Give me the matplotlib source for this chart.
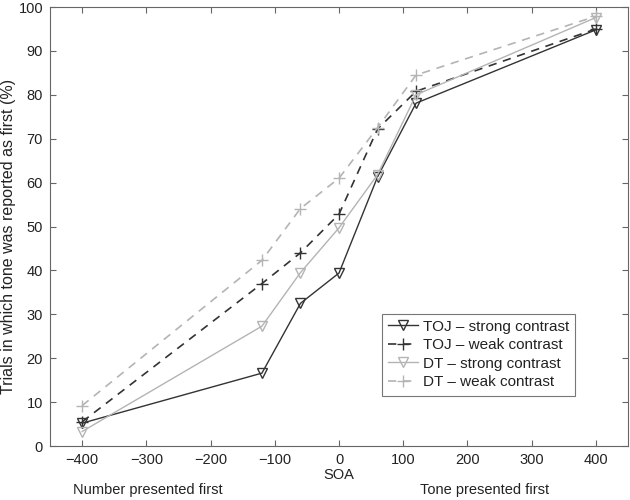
import matplotlib
matplotlib.use("Agg")
import matplotlib.pyplot as plt

plt.rcParams['font.family'] = ['Liberation Sans', 'DejaVu Sans']

soa = [-400, -120, -60, 0, 60, 120, 400]
toj_strong = [5.2, 16.6, 32.5, 39.4, 61.3, 78.1, 94.8]
toj_weak = [5.5, 37.0, 44.0, 52.8, 72.2, 80.8, 95.0]
dt_strong = [3.3, 27.3, 39.5, 49.7, 61.8, 80.0, 97.6]
dt_weak = [9.2, 42.3, 54.1, 61.0, 72.5, 84.5, 97.9]
labels = ["TOJ \u2013 strong contrast", "TOJ \u2013 weak contrast",
          "DT \u2013 strong contrast", "DT \u2013 weak contrast"]

dark = "#333333"
light = "#b4b4b4"

fig = plt.figure(figsize=(6.3, 5.0), dpi=100)
ax = fig.add_axes([50/630, 1-446/500, 578/630, 439/500])

ax.plot(soa, toj_strong, color=dark, lw=1.0, ls='-', marker='v', ms=7.5,
        mfc='none', mec=dark, mew=1.0, label=labels[0])
ax.plot(soa, toj_weak, color=dark, lw=1.2, ls=(0, (5, 4)), marker='+', ms=9,
        mec=dark, mew=1.0, label=labels[1])
ax.plot(soa, dt_strong, color=light, lw=1.0, ls='-', marker='v', ms=7.5,
        mfc='none', mec=light, mew=1.0, label=labels[2])
ax.plot(soa, dt_weak, color=light, lw=1.2, ls=(0, (5, 4)), marker='+', ms=9,
        mec=light, mew=1.0, label=labels[3])

ax.set_xlim(-450, 450)
ax.set_ylim(0, 100)
ax.set_xticks([-400, -300, -200, -100, 0, 100, 200, 300, 400])
ax.set_xticklabels(["\u2212400", "\u2212300", "\u2212200", "\u2212100", "0",
                    "100", "200", "300", "400"])
ax.set_yticks(range(0, 101, 10))
ax.tick_params(direction='in', top=True, right=True, length=4, width=0.8,
               color='#666666', labelsize=10.5, labelcolor='#222222', pad=5)
for s in ax.spines.values():
    s.set_color('#666666')
    s.set_linewidth(0.8)

ax.set_xlabel("SOA", fontsize=10.5, color='#222222', labelpad=1)
fig.text(9/630, 1-236/500, "Trials in which tone was reported as first (%)",
         fontsize=11.5, color='#222222', rotation=90, ha='center', va='center')

leg = ax.legend(loc='lower left', bbox_to_anchor=(0.574, 0.115), fontsize=11,
                frameon=True, fancybox=False, edgecolor='#555555',
                handlelength=2.0, handletextpad=0.3, borderpad=0.4,
                labelspacing=0.3, borderaxespad=0)
leg.get_frame().set_linewidth(0.8)
for t in leg.get_texts():
    t.set_color('#222222')

fig.text(73/630, 1-490/500, "Number presented first", fontsize=10.5,
         color='#222222', ha='left', va='center')
fig.text(485/630, 1-490/500, "Tone presented first", fontsize=10.5,
         color='#222222', ha='center', va='center')

fig.savefig("out.png", dpi=100)
